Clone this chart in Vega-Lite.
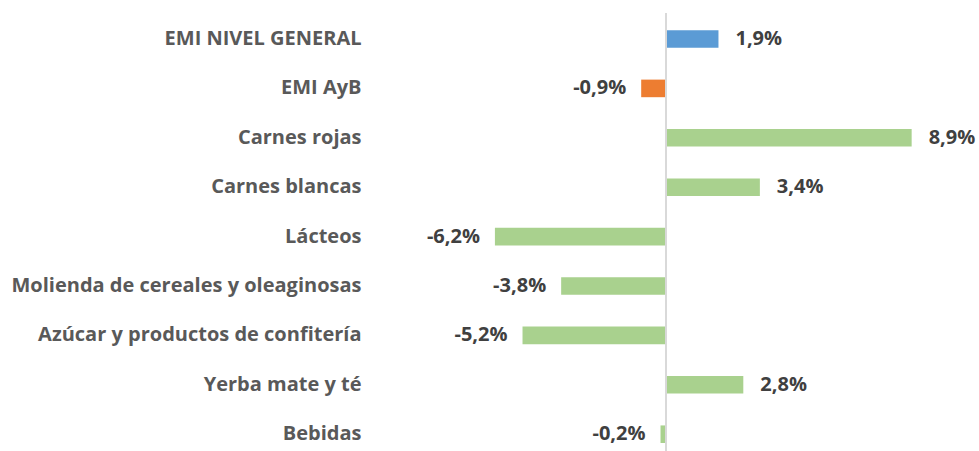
{
  "$schema": "https://vega.github.io/schema/vega-lite/v6.json",
  "width": 608,
  "height": 438,
  "autosize": "none",
  "padding": {"left": 371, "top": 13, "right": 0, "bottom": 0},
  "background": "white",
  "config": {
    "view": {"stroke": null},
    "locale": {"number": {"decimal": ",", "thousands": ".", "grouping": [3], "currency": ["$", ""], "minus": "-"}}
  },
  "data": {
    "values": [
      {"categoria": "EMI NIVEL GENERAL", "valor": 0.019, "grupo": "general"},
      {"categoria": "EMI AyB", "valor": -0.009, "grupo": "ayb"},
      {"categoria": "Carnes rojas", "valor": 0.089, "grupo": "rubro"},
      {"categoria": "Carnes blancas", "valor": 0.034, "grupo": "rubro"},
      {"categoria": "Lácteos", "valor": -0.062, "grupo": "rubro"},
      {"categoria": "Molienda de cereales y oleaginosas", "valor": -0.038, "grupo": "rubro"},
      {"categoria": "Azúcar y productos de confitería", "valor": -0.052, "grupo": "rubro"},
      {"categoria": "Yerba mate y té", "valor": 0.028, "grupo": "rubro"},
      {"categoria": "Bebidas", "valor": -0.002, "grupo": "rubro"}
    ]
  },
  "encoding": {
    "y": {
      "field": "categoria",
      "type": "nominal",
      "sort": null,
      "scale": {"paddingInner": 0.644, "paddingOuter": 0.255, "align": 0.683},
      "axis": {
        "title": null,
        "ticks": false,
        "domain": false,
        "labelPadding": 10,
        "labelLimit": 0,
        "labelFont": "Open Sans",
        "labelFontWeight": "bold",
        "labelFontSize": 20,
        "labelColor": "#595959"
      }
    },
    "x": {
      "field": "valor",
      "type": "quantitative",
      "scale": {"domain": [-0.1069, 0.1134], "nice": false, "zero": false},
      "axis": null
    }
  },
  "layer": [
    {
      "mark": {"type": "bar"},
      "encoding": {
        "color": {
          "field": "grupo",
          "type": "nominal",
          "scale": {"domain": ["general", "ayb", "rubro"], "range": ["#5B9BD5", "#ED7D31", "#A9D18E"]},
          "legend": null
        }
      }
    },
    {
      "mark": {"type": "rule", "color": "#D9D9D9", "strokeWidth": 1.5},
      "encoding": {"x": {"datum": 0}, "y": null}
    },
    {
      "transform": [{"filter": "datum.valor >= 0"}],
      "mark": {"type": "text", "align": "left", "baseline": "middle", "dx": 17, "font": "Open Sans", "fontWeight": "bold", "fontSize": 20, "color": "#404040"},
      "encoding": {"text": {"field": "valor", "type": "quantitative", "format": ".1%"}}
    },
    {
      "transform": [{"filter": "datum.valor < 0"}],
      "mark": {"type": "text", "align": "right", "baseline": "middle", "dx": -15, "font": "Open Sans", "fontWeight": "bold", "fontSize": 20, "color": "#404040"},
      "encoding": {"text": {"field": "valor", "type": "quantitative", "format": ".1%"}}
    }
  ]
}
